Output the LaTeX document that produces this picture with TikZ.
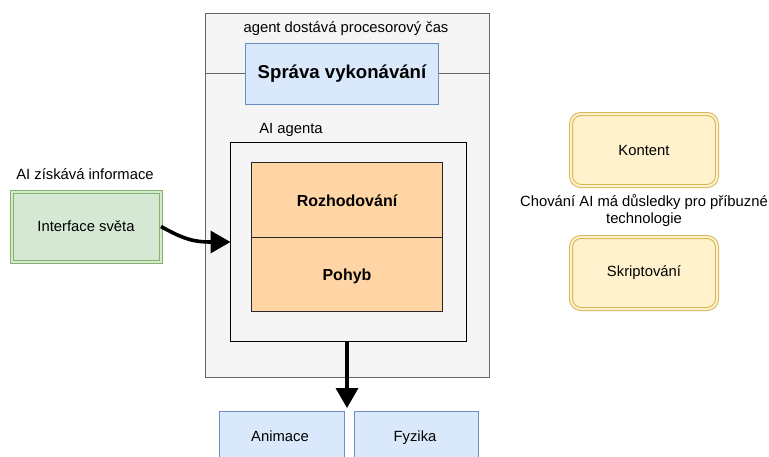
\documentclass[tikz,border=0pt]{standalone}
\usepackage{fontspec}
\setmainfont{Liberation Sans}
\usetikzlibrary{arrows.meta}
\definecolor{greyfill}{HTML}{F5F5F5}
\definecolor{greyline}{HTML}{666666}
\definecolor{bluefill}{HTML}{DAE8FC}
\definecolor{blueline}{HTML}{6C8EBF}
\definecolor{orangefill}{HTML}{FFD5A5}
\definecolor{greenfill}{HTML}{D5E8D4}
\definecolor{greenline}{HTML}{82B366}
\definecolor{yellowfill}{HTML}{FFF2CC}
\definecolor{yellowline}{HTML}{D6B656}
\tikzset{
  txt/.style={font=\fontsize{14.8}{17}\selectfont, inner sep=0pt, align=center},
  boldtxt/.style={font=\fontsize{16}{19}\selectfont\bfseries, inner sep=0pt},
  bluebox/.style={draw=blueline, fill=bluefill, line width=1pt},
  orangebox/.style={draw=black!85, fill=orangefill, line width=1pt},
  greenbox/.style={draw=greenline, double=greenfill, double distance=2pt, line width=1pt, fill=greenfill},
  yellowbox/.style={draw=yellowline, double=yellowfill, double distance=2pt, line width=1pt, fill=yellowfill, rounded corners=10pt},
  flow/.style={line width=3.6pt, -{Triangle[length=20pt, width=22pt]}},
}
\begin{document}
\begin{tikzpicture}[x=1pt, y=-1pt]
\useasboundingbox (0,0) rectangle (769,456);
\clip (0,0) rectangle (769,456);
\fill[white] (0,0) rectangle (769,456);

% processor-time container with execution management
\draw[fill=greyfill, draw=greyline, line width=1pt] (205,13) rectangle (489,377);
\draw[greyline, line width=1pt] (205,73.5) -- (489,73.5);
\node[txt] (cpu) at (346,29) {agent dostává procesorový čas};
\draw[bluebox] (245.5,43.5) rectangle (438.5,104.5);
\node[boldtxt, font=\fontsize{18.6}{22}\selectfont\bfseries] (sprava) at (342,74) {Správa vykonávání};

% AI agent
\node[txt] (agentlbl) at (291,130) {AI agenta};
\draw[fill=greyfill, draw=black, line width=1pt] (230.5,142.5) rectangle (466.5,341.5);
\coordinate (agentW) at (230.5,242);
\coordinate (agentS) at (347,341.5);
\draw[orangebox] (251.5,162.5) rectangle (442.5,237.5);
\draw[orangebox] (251.5,237.5) rectangle (442.5,311.5);
\node[boldtxt] (rozh) at (347,201) {Rozhodování};
\node[boldtxt] (pohyb) at (347,276) {Pohyb};

% world interface
\node[txt] (infolbl) at (85,174) {AI získává informace};
\node[greenbox, minimum width=149pt, minimum height=70pt, txt] (iface) at (86,226.5) {Interface světa};

% output subsystems
\node[bluebox, minimum width=125pt, minimum height=60pt, anchor=north west] (anim) at (218.5,410.5) {};
\node[txt, anchor=base] (animtxt) at (280,441) {Animace};
\node[bluebox, minimum width=124pt, minimum height=60pt, anchor=north west] (fyz) at (353.5,410.5) {};
\node[txt, anchor=base] (fyztxt) at (415,441) {Fyzika};

% related technologies
\node[yellowbox, txt, minimum width=146pt, minimum height=72pt] (kontent) at (644,150) {Kontent};
\node[txt] (note) at (644,211) {Chování AI má důsledky pro příbuzné\\technologie};
\node[yellowbox, txt, minimum width=146pt, minimum height=72pt] (skript) at (644,273) {Skriptování};

% connectors
\draw[flow] (iface.east) .. controls (185,240) and (195,242) .. (agentW);
\coordinate (animtop) at (347,408);
\draw[flow] (agentS) -- (animtop);
\end{tikzpicture}
\end{document}
